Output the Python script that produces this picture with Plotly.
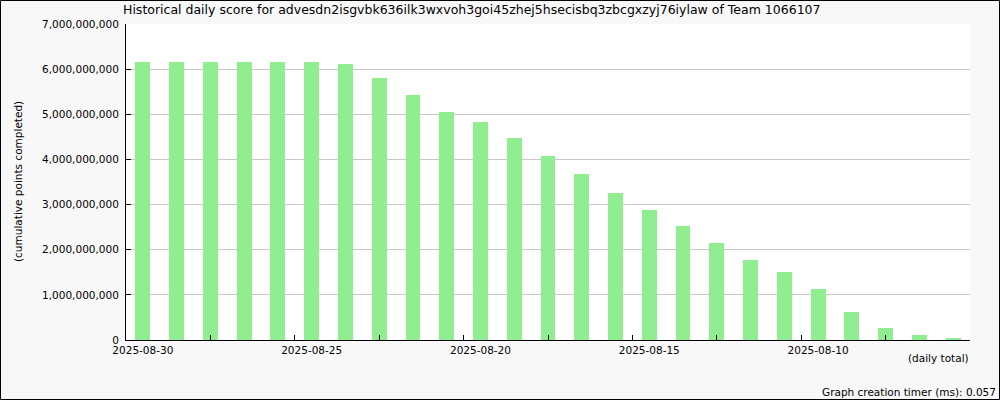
import plotly.graph_objects as go

# Data (cumulative points, most recent first)
dates = ["2025-08-30", "2025-08-29", "2025-08-28", "2025-08-27", "2025-08-26",
         "2025-08-25", "2025-08-24", "2025-08-23", "2025-08-22", "2025-08-21",
         "2025-08-20", "2025-08-19", "2025-08-18", "2025-08-17", "2025-08-16",
         "2025-08-15", "2025-08-14", "2025-08-13", "2025-08-12", "2025-08-11",
         "2025-08-10", "2025-08-09", "2025-08-08", "2025-08-07", "2025-08-06"]
scores = [6.16e9, 6.16e9, 6.16e9, 6.16e9, 6.16e9, 6.16e9, 6.12e9, 5.81e9, 5.43e9,
          5.05e9, 4.83e9, 4.47e9, 4.07e9, 3.67e9, 3.25e9, 2.87e9, 2.52e9, 2.14e9,
          1.78e9, 1.50e9, 1.12e9, 0.61e9, 0.27e9, 0.10e9, 0.03e9]
tick_dates = ["2025-08-30", "2025-08-25", "2025-08-20", "2025-08-15", "2025-08-10"]
tick_labels = ["2025-08-30", "2025-08-25", "2025-08-20", "2025-08-15", "2025-08-10"]

title = "Historical daily score for advesdn2isgvbk636ilk3wxvoh3goi45zhej5hsecisbq3zbcgxzyj76iylaw of Team 1066107"

DAY = 86400000
FONT = "DejaVu Sans"

fig = go.Figure(go.Bar(
    x=dates, y=scores,
    width=0.44 * DAY,
    marker=dict(color="#90EE90", line=dict(width=0)),
    hoverinfo="x+y",
))

L, R, T, B = 126, 30, 24, 60
W, H = 1000, 400
pw, ph = W - L - R, H - T - B

fig.update_layout(
    width=W, height=H,
    margin=dict(l=L, r=R, t=T, b=B),
    paper_bgcolor="#f8f8f8",
    plot_bgcolor="white",
    showlegend=False,
    font=dict(family=FONT, size=10.5, color="black"),
    bargap=0,
)

fig.update_xaxes(
    type="date",
    range=["2025-08-30 12:00", "2025-08-05 12:00"],
    tickmode="array", tickvals=tick_dates, ticktext=tick_labels,
    ticks="inside", ticklen=0, tickcolor="black", tickwidth=1,
    minor=dict(dtick=2.5 * DAY, tick0="2025-08-30 12:00", ticks="inside", ticklen=5,
               tickcolor="black", tickwidth=1, showgrid=False),
    showgrid=False, showline=True, linecolor="black", linewidth=1,
    tickfont=dict(family=FONT, size=10.5, color="black"),
    zeroline=False, fixedrange=True,
)

fig.update_yaxes(
    range=[0, 7e9], dtick=1e9, tick0=0,
    tickformat=",d",
    ticks="inside", ticklen=5, tickcolor="black", tickwidth=1,
    showgrid=True, gridcolor="#c8c8c8", gridwidth=1,
    showline=True, linecolor="black", linewidth=1,
    zeroline=False,
    tickfont=dict(family=FONT, size=10.5, color="black"),
    ticklabelstandoff=4,
)

def px_x(p):
    return (p - L) / pw

def px_y(p):
    return (H - B - p) / ph

annotations = [
    dict(text=title, xref="paper", yref="paper", x=px_x(121), y=px_y(10),
         xanchor="left", yanchor="middle", showarrow=False,
         font=dict(family=FONT, size=12.5, color="black")),
    dict(text="(cumulative points completed)", xref="paper", yref="paper",
         x=px_x(18), y=px_y(182), xanchor="center", yanchor="middle",
         textangle=-90, showarrow=False,
         font=dict(family=FONT, size=10.5, color="black")),
    dict(text="(daily total)", xref="paper", yref="paper",
         x=px_x(971), y=px_y(358), xanchor="right", yanchor="middle",
         showarrow=False, font=dict(family=FONT, size=10.5, color="black")),
    dict(text="Graph creation timer (ms): 0.057", xref="paper", yref="paper",
         x=px_x(998), y=px_y(392), xanchor="right", yanchor="middle",
         showarrow=False, font=dict(family=FONT, size=10.5, color="black")),
]
fig.update_layout(annotations=annotations)

fig.add_shape(type="rect", xref="paper", yref="paper",
              x0=px_x(0.5), x1=px_x(999.5), y0=px_y(399.5), y1=px_y(0.5),
              line=dict(color="black", width=1), fillcolor="rgba(0,0,0,0)",
              layer="above")

fig.write_html(
    "out.html",
    config={"displayModeBar": False, "responsive": False},
    post_script="document.body.style.margin='0px';document.body.style.overflow='hidden';",
)
